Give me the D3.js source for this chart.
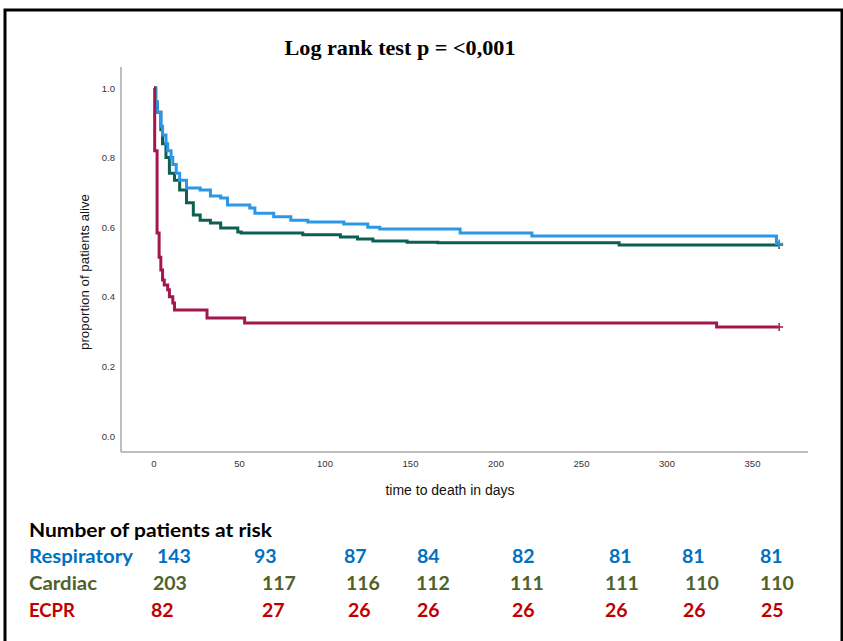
<!DOCTYPE html>
<html>
<head>
	<script src="https://d3js.org/d3.v7.min.js"></script>
	<style>
		body { margin: 0; background: #fff; }
	</style>
</head>
<body>
<svg id="container"></svg>
</body>
<script>
// data: [day, proportion alive] after each step
let respiratory = [[0,1.0],[1,0.96],[2,0.93],[4,0.89],[5,0.865],[7,0.84],[8,0.82],[10,0.80],[11,0.78],[13,0.755],
	[15,0.735],[19,0.713],[27,0.707],[33,0.69],[39,0.684],[43,0.664],[56,0.655],[59,0.64],[70,0.63],[80,0.62],
	[90,0.615],[111,0.609],[125,0.60],[132,0.595],[179,0.583],[221,0.575],[364,0.553],[365,0.553]];
let cardiac = [[0,1.0],[1,0.96],[2,0.93],[4,0.88],[5,0.84],[7,0.80],[9,0.755],[12,0.735],[15,0.707],[19,0.67],
	[23,0.635],[27,0.62],[33,0.612],[39,0.598],[49,0.586],[51,0.583],[87,0.578],[109,0.572],[119,0.566],
	[128,0.560],[148,0.557],[166,0.555],[272,0.549],[365,0.549]];
let ecpr = [[0,1.0],[0.4,0.82],[1.8,0.583],[3,0.514],[4,0.477],[5,0.448],[6,0.434],[8,0.42],[9,0.40],[11,0.382],
	[12,0.362],[31,0.339],[53,0.325],[329,0.313],[365,0.313]];

let xTicks = [0, 50, 100, 150, 200, 250, 300, 350];
let yTicks = [0.0, 0.2, 0.4, 0.6, 0.8, 1.0];

let groups = ['Respiratory', 'Cardiac', 'ECPR'];
let atRiskRespiratory = [143, 93, 87, 84, 82, 81, 81, 81];
let atRiskCardiac = [203, 117, 116, 112, 111, 111, 110, 110];
let atRiskEcpr = [82, 27, 26, 26, 26, 26, 26, 25];
</script>

<script>
let svg = d3.select('#container')
	.attr('width', 843)
	.attr('height', 641);

// frame
svg.append('path')
	.attr('d', 'M5,660 V10 H842 V660')
	.attr('fill', 'none')
	.attr('stroke', 'black')
	.attr('stroke-width', 3);

let x = d3.scaleLinear().domain([0, 350]).range([154, 752.5]);
let y = d3.scaleLinear().domain([0, 1]).range([436, 88]);

// axes lines
svg.append('line').attr('x1', 121).attr('x2', 121).attr('y1', 67).attr('y2', 452)
	.attr('stroke', '#a8a8a8').attr('stroke-width', 1.5);
svg.append('line').attr('x1', 121).attr('x2', 808).attr('y1', 452).attr('y2', 452)
	.attr('stroke', '#a8a8a8').attr('stroke-width', 1.5);

svg.append('g').selectAll('text')
	.data(yTicks)
	.join('text')
	.attr('x', 115)
	.attr('y', (d) => { return y(d) + 3.5 })
	.attr('text-anchor', 'end')
	.attr('font-family', 'Liberation Sans, Arial, sans-serif')
	.attr('font-size', 9.5)
	.attr('fill', '#333')
	.text((d) => { return d.toFixed(1) });

svg.append('g').selectAll('text')
	.data(xTicks)
	.join('text')
	.attr('x', (d) => { return x(d) })
	.attr('y', 467)
	.attr('text-anchor', 'middle')
	.attr('font-family', 'Liberation Sans, Arial, sans-serif')
	.attr('font-size', 9.5)
	.attr('fill', '#333')
	.text((d) => { return d });

svg.append('text')
	.attr('x', 450).attr('y', 495)
	.attr('text-anchor', 'middle')
	.attr('font-family', 'Liberation Sans, Arial, sans-serif')
	.attr('font-size', 14)
	.attr('fill', '#111')
	.text('time to death in days');

svg.append('text')
	.attr('transform', 'translate(89,272) rotate(-90)')
	.attr('text-anchor', 'middle')
	.attr('font-family', 'Liberation Sans, Arial, sans-serif')
	.attr('font-size', 13.3)
	.attr('fill', '#111')
	.text('proportion of patients alive');

// title
svg.append('text')
	.attr('x', 400).attr('y', 55)
	.attr('text-anchor', 'middle')
	.attr('font-family', 'Liberation Serif, Times New Roman, serif')
	.attr('font-weight', 'bold')
	.attr('font-size', 22)
	.attr('textLength', 231)
	.attr('lengthAdjust', 'spacingAndGlyphs')
	.text('Log rank test p = <0,001');

// curves
let line = d3.line()
	.x((d) => { return x(d[0]) })
	.y((d) => { return y(d[1]) })
	.curve(d3.curveStepAfter);

let curves = [
	{data: cardiac, color: '#0d5f52'},
	{data: respiratory, color: '#2a98e6'},
	{data: ecpr, color: '#a3174f'}
];

curves.forEach((c) => {
	svg.append('path')
		.datum(c.data)
		.attr('d', line)
		.attr('fill', 'none')
		.attr('stroke', c.color)
		.attr('stroke-width', 3);
	// censor mark at the end
	let last = c.data[c.data.length - 1];
	let cx = x(last[0]) + 1, cy = y(last[1]);
	svg.append('path')
		.attr('d', `M${cx - 4},${cy} H${cx + 4} M${cx},${cy - 4} V${cy + 4}`)
		.attr('stroke', c.color)
		.attr('stroke-width', 1.5);
});

// numbers at risk
let tableFont = 'Lato, Open Sans, sans-serif';
svg.append('text')
	.attr('x', 29).attr('y', 537)
	.attr('font-family', tableFont)
	.attr('font-weight', 'bold')
	.attr('font-size', 18)
	.attr('fill', '#000')
	.attr('textLength', 243)
	.attr('lengthAdjust', 'spacingAndGlyphs')
	.text('Number of patients at risk');

let rows = [
	{name: groups[0], values: atRiskRespiratory, color: '#0070c0', y: 563, width: 104,
		cols: [157, 254, 344, 417, 512, 609, 682, 760]},
	{name: groups[1], values: atRiskCardiac, color: '#4f6228', y: 590, width: 68,
		cols: [153, 262, 346, 416, 510, 605, 685, 760]},
	{name: groups[2], values: atRiskEcpr, color: '#c00000', y: 617, width: 46,
		cols: [151, 262, 348, 417, 512, 605, 683, 761]}
];

rows.forEach((r) => {
	svg.append('text')
		.attr('x', 29).attr('y', r.y)
		.attr('font-family', tableFont)
		.attr('font-weight', 'bold')
		.attr('font-size', 19.5)
		.attr('fill', r.color)
		.attr('textLength', r.width)
		.attr('lengthAdjust', 'spacingAndGlyphs')
		.text(r.name);
	svg.append('g').selectAll('text')
		.data(r.values)
		.join('text')
		.attr('x', (d, i) => { return r.cols[i] })
		.attr('y', r.y)
		.attr('font-family', tableFont)
		.attr('font-weight', 'bold')
		.attr('font-size', 19.5)
		.attr('fill', r.color)
		.text((d) => { return d });
});
</script>
</html>
